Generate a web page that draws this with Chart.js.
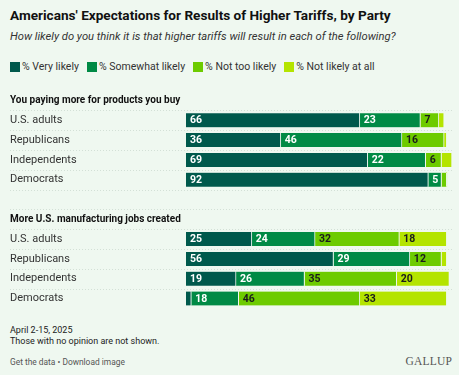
<!DOCTYPE html>
<html>
<head>
<meta charset="utf-8">
<script src="https://cdn.jsdelivr.net/npm/chart.js@4"></script>
<style>
  body { margin: 0; background: #eff8f0; font-family: Roboto, "Noto Sans", sans-serif; }
  #wrap { position: relative; width: 459px; height: 375px; overflow: hidden; background: #eff8f0; }
  .abs { position: absolute; white-space: nowrap; }
  #title { left: 10px; top: 7px; font-size: 13.6px; font-weight: 700; color: #111; }
  #sub { left: 10px; top: 30px; font-size: 11.2px; font-style: italic; color: #333; }
  #legend { left: 10px; top: 60px; font-size: 10.5px; color: #333; display: flex; align-items: center; }
  #legend span.item { display: flex; align-items: center; margin-right: 8px; }
  #legend i { display: inline-block; width: 10px; height: 10px; margin-right: 2px; }
  #chartBox { position: absolute; left: 0; top: 84px; width: 459px; height: 231px; }
  .note { left: 10px; font-size: 9px; color: #222; }
  #links { left: 10px; top: 357px; font-size: 8.4px; color: #555; }
  #logo { right: 7px; top: 355px; font-family: "Liberation Serif", "DejaVu Serif", serif; font-size: 11.5px; color: #555; letter-spacing: 0.2px; }
</style>
</head>
<body>
<div id="wrap">
  <div id="title" class="abs">Americans' Expectations for Results of Higher Tariffs, by Party</div>
  <div id="sub" class="abs">How likely do you think it is that higher tariffs will result in each of the following?</div>
  <div id="legend" class="abs"></div>
  <div id="chartBox"><canvas id="tariffChart"></canvas></div>
  <div class="abs note" style="top:325px">April 2-15, 2025</div>
  <div class="abs note" style="top:336px">Those with no opinion are not shown.</div>
  <div id="links" class="abs">Get the data • Download image</div>
  <div id="logo" class="abs">GALLUP</div>
</div>
<script>
  // question groups and the party rows inside each
  const questions = ['You paying more for products you buy', 'More U.S. manufacturing jobs created'];
  const parties = ['U.S. adults', 'Republicans', 'Independents', 'Democrats'];

  const seriesNames = ['% Very likely', '% Somewhat likely', '% Not too likely', '% Not likely at all'];
  const seriesColors = ['#00594c', '#008a45', '#6dcb00', '#b4e400'];
  const labelColors = ['#ffffff', '#ffffff', '#1b1b1b', '#1b1b1b'];

  // values per question, in party order
  const veryLikely   = [[66, 36, 69, 92], [25, 56, 19, 2]];
  const somewhat     = [[23, 46, 22, 5],  [24, 29, 26, 18]];
  const notTooLikely = [[7, 16, 6, 2],    [32, 12, 35, 46]];
  const notAtAll     = [[2, 1, 4, 0],     [18, 2, 20, 33]];

  // build category rows: header, parties, spacer, header, parties
  const rows = [];
  const headerRows = [];
  questions.forEach((q, qi) => {
    if (qi > 0) rows.push('');
    headerRows.push(rows.length);
    rows.push(q);
    parties.forEach(p => rows.push(p));
  });

  function expand(series) {
    const out = [];
    series.forEach((vals, qi) => {
      if (qi > 0) out.push(null);
      out.push(null);
      vals.forEach(v => out.push(v));
    });
    return out;
  }

  const allSeries = [veryLikely, somewhat, notTooLikely, notAtAll];

  // legend
  const legend = document.getElementById('legend');
  seriesNames.forEach((name, i) => {
    const s = document.createElement('span');
    s.className = 'item';
    s.innerHTML = '<i style="background:' + seriesColors[i] + '"></i>' + name;
    legend.appendChild(s);
  });

  // dotted row separators + question headers (headers would be clipped by the axis box)
  const rowLines = {
    id: 'rowLines',
    beforeDatasetsDraw(chart) {
      const ctx = chart.ctx;
      const y = chart.scales.y;
      ctx.save();
      ctx.strokeStyle = '#d3e0d6';
      ctx.lineWidth = 1;
      ctx.setLineDash([1, 2]);
      for (let i = 0; i < rows.length - 1; i++) {
        const yy = Math.round((y.getPixelForValue(i) + y.getPixelForValue(i + 1)) / 2) + 0.5;
        ctx.beginPath();
        ctx.moveTo(10, yy);
        ctx.lineTo(452, yy);
        ctx.stroke();
      }
      ctx.setLineDash([]);
      ctx.font = 'bold 10px Roboto, "Noto Sans", sans-serif';
      ctx.fillStyle = '#111';
      ctx.textBaseline = 'middle';
      ctx.textAlign = 'left';
      headerRows.forEach(i => ctx.fillText(rows[i], 10, y.getPixelForValue(i)));
      ctx.restore();
    }
  };

  const barLabels = {
    id: 'barLabels',
    afterDatasetsDraw(chart) {
      const ctx = chart.ctx;
      ctx.save();
      ctx.font = 'bold 10.5px Roboto, "Noto Sans", sans-serif';
      ctx.textBaseline = 'middle';
      ctx.textAlign = 'left';
      chart.data.datasets.forEach((ds, di) => {
        const meta = chart.getDatasetMeta(di);
        meta.data.forEach((bar, i) => {
          const v = ds.data[i];
          if (v == null || v < 5) return;
          ctx.fillStyle = labelColors[di];
          ctx.fillText(String(v), Math.min(bar.base, bar.x) + 4, bar.y + 0.5);
        });
      });
      ctx.restore();
    }
  };

  new Chart(document.getElementById('tariffChart'), {
    type: 'bar',
    data: {
      labels: rows,
      datasets: allSeries.map((s, i) => ({
        label: seriesNames[i],
        data: expand(s),
        backgroundColor: seriesColors[i],
        borderColor: '#eef8f0',
        borderWidth: { left: 0, right: 1, top: 0, bottom: 0 },
        borderSkipped: false,
        barThickness: 14
      }))
    },
    options: {
      indexAxis: 'y',
      responsive: true,
      maintainAspectRatio: false,
      animation: false,
      layout: { padding: { left: 10, right: 7, top: 0, bottom: 0 } },
      scales: {
        x: {
          stacked: true,
          min: 0,
          max: 101,
          display: false
        },
        y: {
          stacked: true,
          grid: { display: false },
          border: { display: false },
          afterFit(scale) { scale.width = 176; },
          ticks: {
            crossAlign: 'far',
            padding: 0,
            color: '#333',
            callback(value, index) { return headerRows.includes(index) ? '' : rows[index]; },
            font: { family: 'Roboto, "Noto Sans", sans-serif', size: 11 }
          }
        }
      },
      plugins: {
        legend: { display: false },
        tooltip: { enabled: false }
      }
    },
    plugins: [rowLines, barLabels]
  });
</script>
</body>
</html>
